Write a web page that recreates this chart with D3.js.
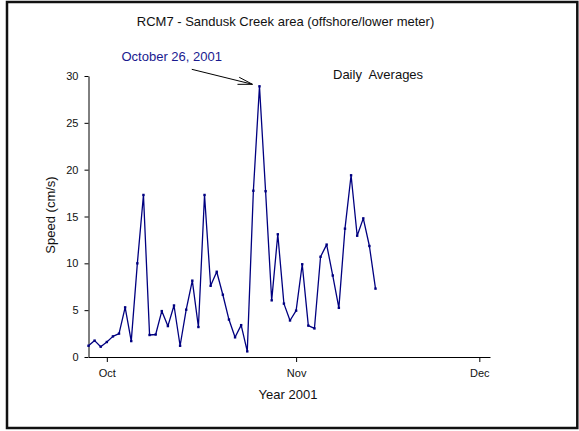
<!DOCTYPE html>
<html>
<head>
<meta charset="utf-8">
<script src="https://cdn.jsdelivr.net/npm/d3@7"></script>
<style>
  html, body { margin: 0; padding: 0; background: #fff; }
  svg { display: block; font-family: "Liberation Sans", Arial, sans-serif; }
</style>
</head>
<body>
<svg id="chart" width="579" height="431"></svg>
<script>
// ---- data ----
const dates = [
  "2001-09-28","2001-09-29","2001-09-30",
  "2001-10-01","2001-10-02","2001-10-03","2001-10-04","2001-10-05","2001-10-06","2001-10-07",
  "2001-10-08","2001-10-09","2001-10-10","2001-10-11","2001-10-12","2001-10-13","2001-10-14",
  "2001-10-15","2001-10-16","2001-10-17","2001-10-18","2001-10-19","2001-10-20","2001-10-21",
  "2001-10-22","2001-10-23","2001-10-24","2001-10-25","2001-10-26","2001-10-27","2001-10-28",
  "2001-10-29","2001-10-30","2001-10-31",
  "2001-11-01","2001-11-02","2001-11-03","2001-11-04","2001-11-05","2001-11-06","2001-11-07",
  "2001-11-08","2001-11-09","2001-11-10","2001-11-11","2001-11-12","2001-11-13","2001-11-14"
];
const speeds = [
  1.2, 1.75, 1.1,
  1.6, 2.2, 2.5, 5.3, 1.7, 10.0, 17.3,
  2.35, 2.4, 4.9, 3.3, 5.5, 1.2, 5.05,
  8.15, 3.2, 17.3, 7.6, 9.1, 6.65, 4.0,
  2.1, 3.4, 0.6, 17.75, 28.9, 17.7, 6.05,
  13.1, 5.7, 3.9,
  4.95, 9.9, 3.35, 3.05, 10.7, 12.0, 8.7,
  5.25, 13.7, 19.4, 12.95, 14.8, 11.85, 7.3
];
const yTicks = [0, 5, 10, 15, 20, 25, 30];
const xTickDates = ["2001-10-01", "2001-11-01", "2001-12-01"];
const titleText = "RCM7 - Sandusk Creek area (offshore/lower meter)";
const annotationText = "October 26, 2001";
const annotationDate = "2001-10-26";
const noteText = "Daily  Averages";
const xLabel = "Year 2001";
const yLabel = "Speed (cm/s)";

// ---- setup ----
const parse = d3.timeParse("%Y-%m-%d");
const data = dates.map((d, i) => ({ date: parse(d), v: speeds[i] }));
const lineColor = "#000080";

const svg = d3.select("#chart");

// frame
svg.append("rect")
  .attr("x", 7).attr("y", 2)
  .attr("width", 570.3).attr("height", 426)
  .attr("fill", "none").attr("stroke", "#111").attr("stroke-width", 2.5);

const x = d3.scaleTime()
  .domain([parse("2001-09-28"), new Date(2001, 11, 2, 18)])
  .range([88.5, 490]);
const y = d3.scaleLinear().domain([0, 30]).range([357, 76]);

// axes
const xAxis = d3.axisBottom(x)
  .tickValues(xTickDates.map(parse))
  .tickFormat(d3.timeFormat("%b"))
  .tickSize(5).tickPadding(7).tickSizeOuter(0);
const yAxis = d3.axisLeft(y)
  .tickValues(yTicks)
  .tickSize(4).tickPadding(6).tickSizeOuter(0);

const gx = svg.append("g").attr("transform", `translate(0,${y(0)})`).call(xAxis);
const gy = svg.append("g").attr("transform", `translate(${x.range()[0]},0)`).call(yAxis);
[gx, gy].forEach(g => {
  g.selectAll("text").attr("font-size", 11).attr("fill", "#111")
    .attr("font-family", "'Liberation Sans', Arial, sans-serif");
  g.selectAll("line, path").attr("stroke", "#000").attr("stroke-width", 1);
});

// line
const line = d3.line().x(d => x(d.date)).y(d => y(d.v));
svg.append("path").datum(data)
  .attr("d", line)
  .attr("fill", "none").attr("stroke", lineColor).attr("stroke-width", 1.3)
  .attr("stroke-linejoin", "round");

// markers
svg.append("g").selectAll("rect").data(data).join("rect")
  .attr("x", d => x(d.date) - 1.2).attr("y", d => y(d.v) - 1.2)
  .attr("width", 2.4).attr("height", 2.4).attr("fill", lineColor);

// title
svg.append("text")
  .attr("x", 285.5).attr("y", 26)
  .attr("text-anchor", "middle").attr("font-size", 13).attr("fill", "#111")
  .text(titleText);

// note
svg.append("text")
  .attr("x", 333).attr("y", 79)
  .attr("font-size", 13).attr("fill", "#111")
  .style("white-space", "pre")
  .text(noteText);

// annotation
const peak = data.find(d => d3.timeFormat("%Y-%m-%d")(d.date) === annotationDate);
const tipX = x(peak.date) - 7, tipY = y(peak.v) - 2;
const startX = tipX - 60.7, startY = tipY - 15;
svg.append("text")
  .attr("x", startX - 70.3).attr("y", startY - 8.3)
  .attr("font-size", 13).attr("fill", "#1a1a8f")
  .text(annotationText);
const ang = Math.atan2(startY - tipY, startX - tipX);
const barb = 15, spread = 14 * Math.PI / 180;
const arrowPath = d3.path();
arrowPath.moveTo(startX, startY);
arrowPath.lineTo(tipX, tipY);
arrowPath.moveTo(tipX + barb * Math.cos(ang + spread), tipY + barb * Math.sin(ang + spread));
arrowPath.lineTo(tipX, tipY);
arrowPath.lineTo(tipX + barb * Math.cos(ang - spread), tipY + barb * Math.sin(ang - spread));
svg.append("path").attr("d", arrowPath.toString())
  .attr("fill", "none").attr("stroke", "#000").attr("stroke-width", 1);

// axis labels
svg.append("text")
  .attr("x", 288).attr("y", 399)
  .attr("text-anchor", "middle").attr("font-size", 13).attr("fill", "#111")
  .text(xLabel);
svg.append("text")
  .attr("transform", `translate(55,215) rotate(-90)`)
  .attr("text-anchor", "middle").attr("font-size", 13).attr("fill", "#111")
  .text(yLabel);
</script>
</body>
</html>
